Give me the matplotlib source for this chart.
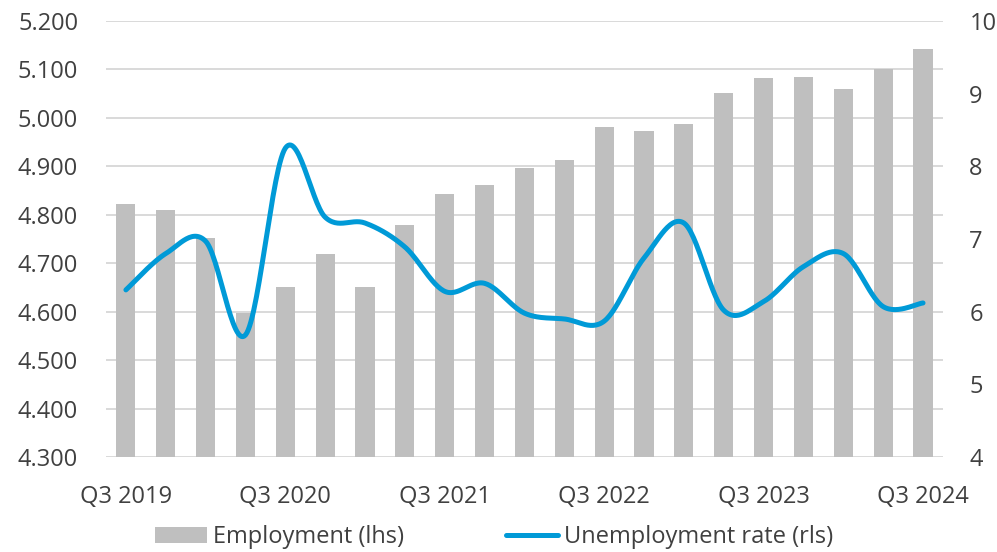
import numpy as np
import matplotlib
matplotlib.use("Agg")
import matplotlib.pyplot as plt
from matplotlib.ticker import FuncFormatter, FixedLocator

# Quarterly labour market data, Q3 2019 - Q3 2024
quarters = ["Q3 2019", "Q4 2019", "Q1 2020", "Q2 2020", "Q3 2020", "Q4 2020",
            "Q1 2021", "Q2 2021", "Q3 2021", "Q4 2021", "Q1 2022", "Q2 2022",
            "Q3 2022", "Q4 2022", "Q1 2023", "Q2 2023", "Q3 2023", "Q4 2023",
            "Q1 2024", "Q2 2024", "Q3 2024"]
employment = [4822, 4809, 4753, 4598, 4650, 4720, 4651, 4779, 4842, 4862, 4897,
              4913, 4981, 4972, 4988, 5052, 5082, 5084, 5060, 5101, 5142]
unemployment = [6.30, 6.80, 6.97, 5.68, 8.25, 7.30, 7.22, 6.89, 6.28, 6.39, 5.98,
                5.90, 5.87, 6.74, 7.22, 6.02, 6.14, 6.62, 6.80, 6.07, 6.12]

BAR_COLOR = "#BFBFBF"
LINE_COLOR = "#009AD7"
GRID_COLOR = "#D9D9D9"
TEXT_COLOR = "#404040"

plt.rcParams["font.family"] = ["Open Sans", "DejaVu Sans"]
plt.rcParams["font.size"] = 17
plt.rcParams["text.color"] = TEXT_COLOR


def smooth(xs, ys, steps=30):
    # Catmull-Rom curve through the points (like a "smoothed line" in office charts)
    xs = np.asarray(xs, float)
    ys = np.asarray(ys, float)
    px = np.concatenate([[xs[0]], xs, [xs[-1]]])
    py = np.concatenate([[ys[0]], ys, [ys[-1]]])
    out_x, out_y = [], []
    t = np.linspace(0, 1, steps)
    for i in range(1, len(px) - 2):
        p0, p1, p2, p3 = (np.array([px[j], py[j]]) for j in range(i - 1, i + 3))
        c1 = p1 + (p2 - p0) / 6
        c2 = p2 - (p3 - p1) / 6
        b = ((1 - t) ** 3)[:, None] * p1 + (3 * (1 - t) ** 2 * t)[:, None] * c1 \
            + (3 * (1 - t) * t ** 2)[:, None] * c2 + (t ** 3)[:, None] * p2
        out_x.extend(b[:, 0])
        out_y.extend(b[:, 1])
    return np.array(out_x), np.array(out_y)


fig = plt.figure(figsize=(9.97, 5.52), dpi=100)
ax = fig.add_axes([0.1063, 0.172, 0.8395, 0.790])
x = np.arange(len(quarters))

ax.bar(x, employment, width=0.48, color=BAR_COLOR, zorder=2, label="Employment (lhs)")
ax.set_ylim(4300, 5200)
ax.set_xlim(-0.5, len(quarters) - 0.5)
ax.yaxis.set_major_locator(FixedLocator(np.arange(4300, 5201, 100)))
ax.yaxis.set_major_formatter(FuncFormatter(lambda v, p: f"{v / 1000:.3f}"))
ax.grid(axis="y", color=GRID_COLOR, lw=1.4, zorder=0)
ax.set_axisbelow(True)
ax.set_xticks(x[::4])
ax.set_xticklabels(quarters[::4])
ax.tick_params(axis="x", length=0, pad=20, colors=TEXT_COLOR)
ax.tick_params(axis="y", length=0, pad=20, colors=TEXT_COLOR)
for s in ax.spines.values():
    s.set_visible(False)

ax2 = ax.twinx()
sx, sy = smooth(x, unemployment)
ax2.plot(sx, sy, color=LINE_COLOR, lw=3.6, solid_capstyle="round", zorder=3,
         label="Unemployment rate (rls)")
ax2.set_ylim(4, 10)
ax2.set_yticks(range(4, 11))
ax2.tick_params(axis="y", length=0, pad=19, colors=TEXT_COLOR)
for s in ax2.spines.values():
    s.set_visible(False)

h1, l1 = ax.get_legend_handles_labels()
h2, l2 = ax2.get_legend_handles_labels()
fig.legend(h1 + h2, l1 + l2, loc="center", bbox_to_anchor=(0.4955, 0.027), ncol=2,
           frameon=False, handlelength=2.2, handletextpad=0.25, columnspacing=4.3,
           borderaxespad=0)

fig.savefig("out.png", dpi=100)
